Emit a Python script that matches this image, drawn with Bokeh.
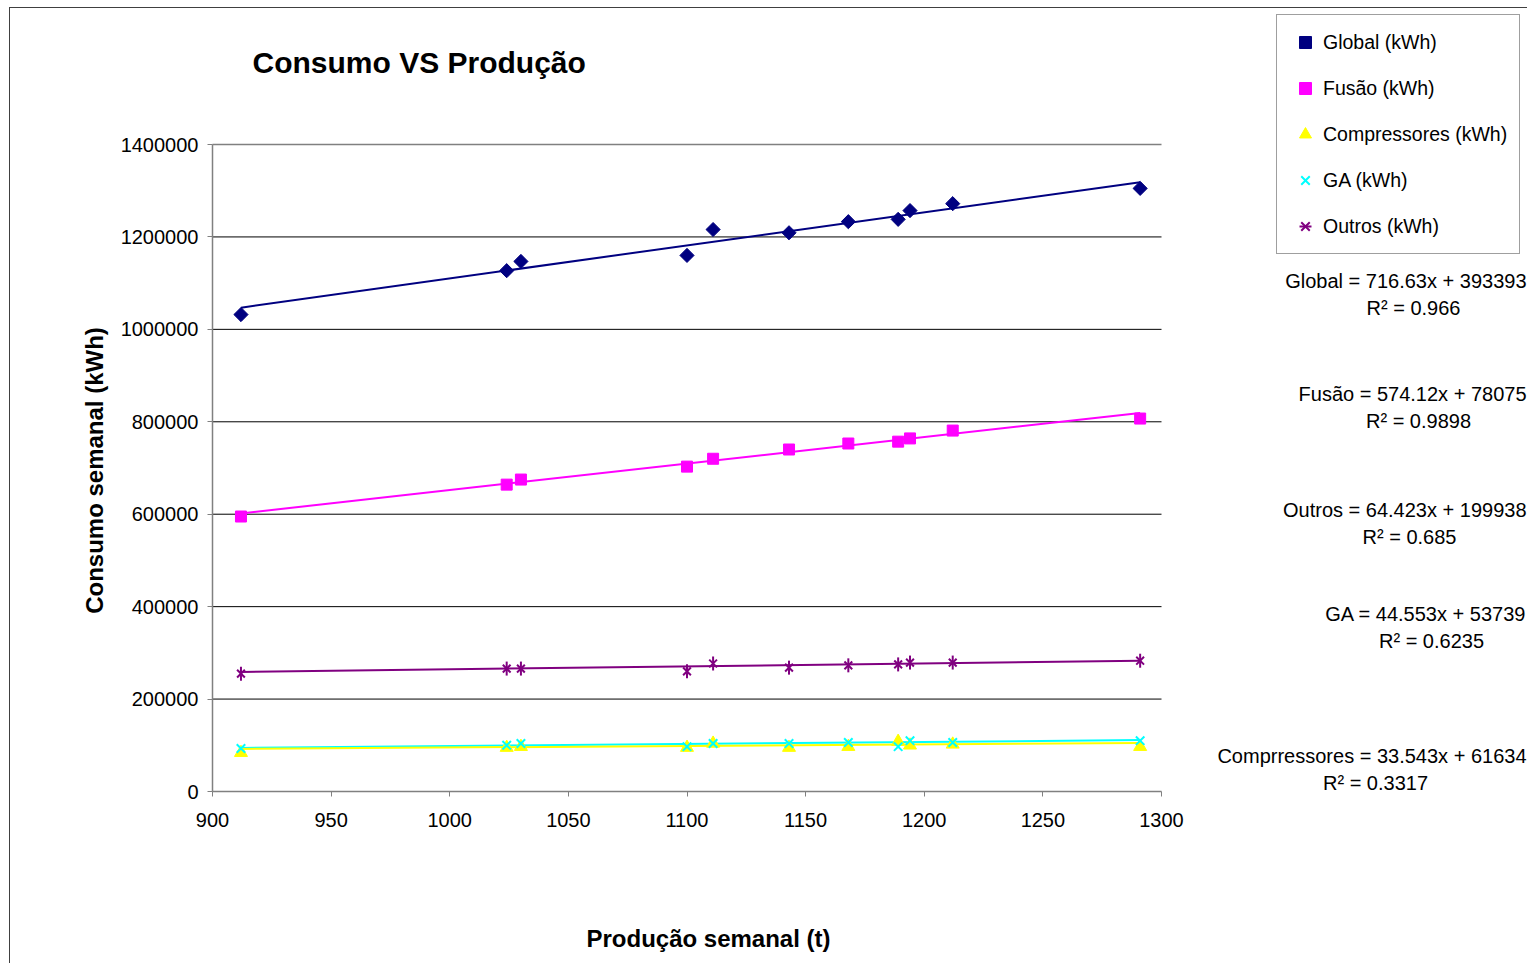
import math
from bokeh.plotting import figure
from bokeh.models import (Range1d, FixedTicker, BasicTickFormatter, Label, Legend, LegendItem)
from bokeh.embed import file_html
from bokeh.resources import INLINE

# ---- data ----
producao = [912, 1024, 1030, 1100, 1111, 1143, 1168, 1189, 1194, 1212, 1291]
global_kwh = [1032000, 1127000, 1147000, 1160000, 1216000, 1209000, 1233000, 1238000, 1257000, 1272000, 1305000]
fusao_kwh = [595000, 664000, 675000, 703000, 720000, 740000, 753000, 757000, 764000, 781000, 807000]
compressores_kwh = [84000, 95000, 97000, 95000, 104000, 95000, 97000, 108000, 100000, 102000, 97000]
ga_kwh = [93000, 100000, 104000, 97000, 104000, 104000, 106000, 97000, 110000, 106000, 110000]
outros_kwh = [255000, 266000, 266000, 260000, 277000, 268000, 273000, 275000, 279000, 279000, 283000]

# trendline coefficients (slope, intercept) as shown on chart
trend_names = ["Global", "Fusão", "Outros", "GA", "Comprressores"]
trend_slopes = [716.63, 574.12, 64.423, 44.553, 33.543]
trend_intercepts = [393393, 78075, 199938, 53739, 61634]
trend_r2 = ["0.966", "0.9898", "0.685", "0.6235", "0.3317"]

x_ticks = [900, 950, 1000, 1050, 1100, 1150, 1200, 1250, 1300]
y_ticks = [0, 200000, 400000, 600000, 800000, 1000000, 1200000, 1400000]

FONT = "Liberation Sans"

# window-pixel geometry of the plot area (x: 900 -> 212px, 1300 -> 1161px; y: 0 -> 791px, 1.4M -> 144px)
def dx(px):
    return 900 + (px - 212) * 400.0 / 949.0

def dy(py):
    return (791 - py) * 1400000.0 / 647.0

# canvas spans window x 10..1528, y 8..964; the data frame fills the canvas and
# the axes are drawn at fixed data locations (x=900, y=0)
p = figure(width=1518, height=956, output_backend="svg", toolbar_location=None, title=None,
           x_range=Range1d(dx(10), dx(1528)), y_range=Range1d(dy(964), dy(8)),
           min_border_left=0, min_border_right=0, min_border_top=0, min_border_bottom=0,
           margin=(7, 0, 0, 9))
p.styles = {"border-left": "1px solid #404040", "border-top": "1px solid #404040"}
p.outline_line_color = None
p.background_fill_color = "white"
p.border_fill_color = "white"
p.xgrid.visible = False
p.ygrid.visible = False

# axes
for ax in (p.xaxis[0], p.yaxis[0]):
    ax.axis_line_color = "#808080"
    ax.axis_line_width = 1.5
    ax.major_tick_line_color = "#808080"
    ax.major_tick_line_width = 1
    ax.major_tick_out = 5
    ax.major_tick_in = 0
    ax.minor_tick_line_color = None
    ax.major_label_text_font = FONT
    ax.major_label_text_font_size = "20px"
    ax.major_label_text_color = "black"
p.xaxis.ticker = FixedTicker(ticks=x_ticks)
p.yaxis.ticker = FixedTicker(ticks=y_ticks)
p.xaxis.bounds = (x_ticks[0], x_ticks[-1])
p.yaxis.bounds = (y_ticks[0], y_ticks[-1])
p.xaxis.fixed_location = y_ticks[0]
p.yaxis.fixed_location = x_ticks[0]
p.yaxis.formatter = BasicTickFormatter(use_scientific=False)
p.xaxis.major_label_standoff = 16
p.yaxis.major_label_standoff = 9

# horizontal grid lines across the plot area
grid_y = y_ticks[1:-1]
p.segment(x0=[x_ticks[0]] * len(grid_y), x1=[x_ticks[-1]] * len(grid_y), y0=grid_y, y1=grid_y,
          line_color="black", line_width=1)
p.segment(x0=[x_ticks[0]], x1=[x_ticks[-1]], y0=[y_ticks[-1]], y1=[y_ticks[-1]],
          line_color="#808080", line_width=1.5)

# trend lines
colors = {"Global": "#000080", "Fusão": "#FF00FF", "Outros": "#800080", "GA": "#00FFFF", "Comprressores": "#FFFF00"}
xmin, xmax = min(producao), max(producao)
for name, m, b in zip(trend_names, trend_slopes, trend_intercepts):
    p.line([xmin, xmax], [m * xmin + b, m * xmax + b], line_color=colors[name], line_width=2)

# scatter series
r_global = p.scatter(producao, global_kwh, marker="square", angle=math.pi / 4, size=10,
                     fill_color="#000080", line_color="#000080")
r_fusao = p.scatter(producao, fusao_kwh, marker="square", size=11, fill_color="#FF00FF", line_color="#FF00FF")
r_comp = p.scatter(producao, compressores_kwh, marker="triangle", size=13, fill_color="#FFFF00", line_color="#FFFF00")
r_ga = p.scatter(producao, ga_kwh, marker="x", size=12, line_color="#00FFFF", line_width=2)
r_outros_x = p.scatter(producao, outros_kwh, marker="x", size=11, line_color="#800080", line_width=2)
r_outros_v = p.scatter(producao, outros_kwh, marker="dash", angle=math.pi / 2, size=14, line_color="#800080", line_width=2)

legend = Legend(items=[
    LegendItem(label="Global (kWh)", renderers=[r_global]),
    LegendItem(label="Fusão (kWh)", renderers=[r_fusao]),
    LegendItem(label="Compressores (kWh)", renderers=[r_comp]),
    LegendItem(label="GA (kWh)", renderers=[r_ga]),
    LegendItem(label="Outros (kWh)", renderers=[r_outros_x, r_outros_v]),
], location=(1266, 710))
legend.padding = 12
legend.spacing = 16
legend.margin = 0
legend.label_height = 22
legend.glyph_height = 30
legend.glyph_width = 32
legend.label_standoff = 2
legend.label_text_font = FONT
legend.label_text_font_size = "19.5px"
legend.label_text_color = "black"
legend.border_line_color = "#404040"
legend.border_line_width = 1
legend.background_fill_color = "white"
legend.background_fill_alpha = 1
p.add_layout(legend, "center")

# chart title and axis titles
p.add_layout(Label(x=dx(252), y=dy(62), text="Consumo VS Produção", text_font=FONT, text_color="black",
                   text_font_size="30px", text_font_style="bold", text_baseline="middle", text_align="left"))
p.add_layout(Label(x=dx(94), y=dy(470), text="Consumo semanal (kWh)", text_font=FONT, text_color="black",
                   text_font_size="24px", text_font_style="bold", text_baseline="middle", text_align="center",
                   angle=math.pi / 2))
p.add_layout(Label(x=dx(708), y=dy(938), text="Produção semanal (t)", text_font=FONT, text_color="black",
                   text_font_size="24px", text_font_style="bold", text_baseline="middle", text_align="center"))

# trendline equations
eq_pos = {"Global": (1413, 280), "Fusão": (1418, 393), "Outros": (1409, 509), "GA": (1431, 613), "Comprressores": (1375, 755)}
for name, m, b, r2 in zip(trend_names, trend_slopes, trend_intercepts, trend_r2):
    cx, cy = eq_pos[name]
    p.add_layout(Label(x=dx(1526), y=dy(cy), text=f"{name} = {m}x + {b}", text_font=FONT, text_color="black",
                       text_font_size="20px", text_baseline="middle", text_align="right"))
    p.add_layout(Label(x=dx(cx), y=dy(cy + 27), text=f"R² = {r2}", text_font=FONT, text_color="black",
                       text_font_size="20px", text_baseline="middle", text_align="center"))

open("out.html", "w").write(file_html(p, INLINE))
